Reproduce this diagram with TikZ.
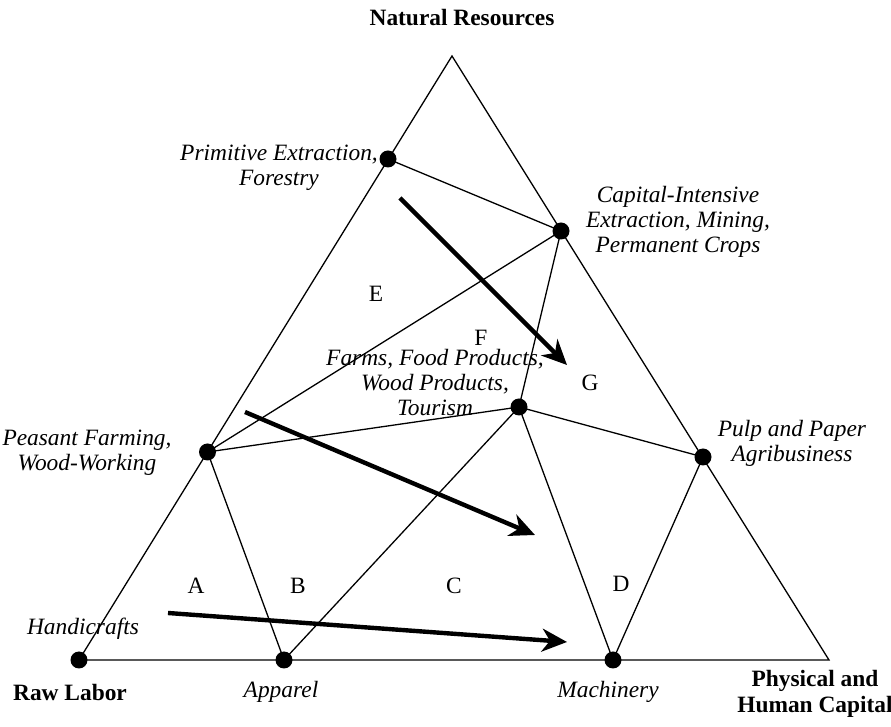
\documentclass[tikz,border=0pt]{standalone}
\usepackage{fontspec}
\setmainfont{Liberation Serif}
\usetikzlibrary{arrows.meta}

\begin{document}
\begin{tikzpicture}[x=0.5pt,y=-0.5pt,line width=0.65pt,
	>={Stealth[length=12.5pt,width=11.5pt,inset=4pt]},
	dot/.style={circle,fill=black,inner sep=0pt,minimum size=8.5pt},
	sector/.style={font=\fontsize{11.7}{12.5}\selectfont\itshape,align=center,inner sep=0pt},
	corner/.style={font=\fontsize{11.7}{13}\selectfont\bfseries,align=center,inner sep=0pt},
	zone/.style={font=\fontsize{11.7}{13}\selectfont,inner sep=0pt},
	trend/.style={->,line width=2.2pt}]
\useasboundingbox (0,0) rectangle (891,727);
\coordinate (top) at (452,56);
\coordinate (right) at (829,660);
\node[dot] (hand) at (79,660) {};
\node[dot] (appar) at (284,660) {};
\node[dot] (mach) at (613,660) {};
\node[dot] (peas) at (207.5,452) {};
\node[dot] (prim) at (388,159) {};
\node[dot] (capit) at (561,231) {};
\node[dot] (farm) at (519,407) {};
\node[dot] (pulp) at (703,457) {};
\draw (hand.center) -- (top) -- (right) -- cycle;
\draw (prim.center) -- (capit.center) -- (peas.center) -- (farm.center) -- (pulp.center);
\draw (capit.center) -- (farm.center);
\draw (appar.center) -- (peas.center);
\draw (appar.center) -- (farm.center) -- (mach.center) -- (pulp.center);
\node[corner] (natres) at (462,18) {Natural Resources};
\node[corner] (rawlab) at (70,692) {Raw Labor};
\node[corner] (physcap) at (815,694) {Physical and\\Human Capital};
\node[sector] (primlab) at (279,168) {Primitive Extraction,\\Forestry};
\node[sector] (capitlab) at (678,222) {Capital-Intensive\\Extraction, Mining,\\Permanent Crops};
\node[sector] (farmlab) at (435,383) {Farms, Food Products,\\Wood Products,\\Tourism};
\node[sector] (peaslab) at (87,453) {Peasant Farming,\\Wood-Working};
\node[sector] (pulplab) at (792,443) {Pulp and Paper\\Agribusiness};
\node[sector] (handlab) at (83,629) {Handicrafts};
\node[sector] (apparlab) at (281,692) {Apparel};
\node[sector] (machlab) at (608,692) {Machinery};
\foreach \l/\x/\y in {A/196/586,B/298/586,C/454/586,D/621/584,E/376/294,F/481/338,G/590/383}{
	\node[zone] (zone\l) at (\x,\y) {\l};
}
\coordinate (up1) at (400,198);
\coordinate (up2) at (567,365);
\coordinate (mid1) at (245,412);
\coordinate (mid2) at (535,535);
\coordinate (low1) at (168,613);
\coordinate (low2) at (567,642);
\draw[trend] (up1) -- (up2);
\draw[trend] (mid1) -- (mid2);
\draw[trend] (low1) -- (low2);
\end{tikzpicture}
\end{document}
